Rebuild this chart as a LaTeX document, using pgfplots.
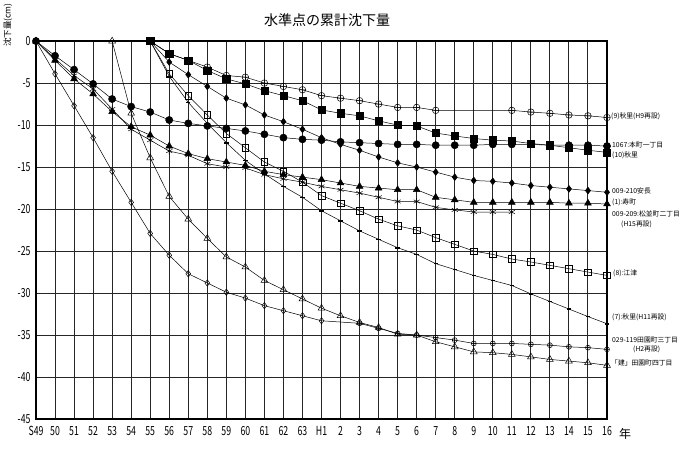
\documentclass[border=0pt]{standalone}
\usepackage{fontspec}
\setmainfont{Noto Sans CJK JP}
\newfontfamily\tickfont[FakeStretch=0.7]{Noto Sans CJK JP}
\usepackage{pgfplots}
\pgfplotsset{compat=1.18}
\begin{document}
\begin{tikzpicture}
\path (-36pt,-31pt) rectangle (664pt,416pt);
\foreach \i in {1,...,29} {\draw[black!85, line width=1pt] (\i*19.0333pt,0pt) -- (\i*19.0333pt,378pt);}
\foreach \j in {1,...,8} {\draw[black!85, line width=1pt] (0pt,\j*42pt) -- (571pt,\j*42pt);}
\begin{axis}[
 at={(0pt,0pt)}, anchor=south west, scale only axis, width=571pt, height=378pt,
 xmin=0, xmax=30, ymin=-45, ymax=0,
 xtick={0,...,30},
 xticklabels={S49,50,51,52,53,54,55,56,57,58,59,60,61,62,63,H1,2,3,4,5,6,7,8,9,10,11,12,13,14,15,16},
 ytick={-45,-40,-35,-30,-25,-20,-15,-10,-5,0},
 yticklabels={-45,-40,-35,-30,-25,-20,-15,-10,-5,0},
 major tick length=0pt,
 axis line style={line width=1.8pt},
 tick label style={font=\tickfont\fontsize{12.5}{13}\selectfont},
 yticklabel style={xshift=-2pt},
 xticklabel style={yshift=-4pt},
 clip=false,
 every axis plot/.append style={black, line width=0.5pt, mark options={solid, line width=0.5pt}},
]
% 029-119 (diamond, then small oplus)
\addplot[mark=diamond, mark size=3.2pt, mark options={fill=white}] coordinates {(0,0)(1,-3.9)(2,-7.7)(3,-11.5)(4,-15.5)(5,-19.2)(6,-22.9)(7,-25.5)(8,-27.7)(9,-28.8)(10,-29.9)(11,-30.6)(12,-31.5)(13,-32.1)(14,-32.7)(15,-33.3)};
\addplot[mark=oplus, mark size=2.5pt, mark options={fill=white}, mark indices={2,3,...,15}] coordinates {(15,-33.3)(17,-33.6)(18,-34.2)(19,-34.8)(20,-35.0)(21,-35.3)(22,-35.6)(23,-36.0)(24,-36.0)(25,-36.0)(26,-36.1)(27,-36.2)(28,-36.4)(29,-36.5)(30,-36.7)};
% open triangle
\addplot[mark=triangle, mark size=3.9pt, mark options={fill=white}] coordinates {(4,0)(5,-8.6)(6,-13.9)(7,-18.5)(8,-21.2)(9,-23.5)(10,-25.7)(11,-26.9)(12,-28.5)(13,-29.6)(14,-30.7)(15,-31.8)(16,-32.7)(17,-33.5)(18,-34.1)(19,-34.9)(20,-35.0)(21,-35.8)(22,-36.4)(23,-37.0)(24,-37.1)(25,-37.3)(26,-37.6)(27,-37.9)(28,-38.1)(29,-38.3)(30,-38.6)};
% asterisk
\addplot[mark=asterisk, mark size=3.5pt] coordinates {(0,0)(1,-2.1)(2,-4.1)(3,-5.7)(4,-8.1)(5,-10.5)(6,-11.8)(7,-13.1)(8,-13.6)(9,-14.6)(10,-15.0)(11,-15.1)(12,-15.9)(13,-16.4)(14,-16.8)(15,-17.3)(16,-17.7)(17,-18.1)(18,-18.6)(19,-19.1)(20,-19.1)(21,-19.8)(22,-20.1)(23,-20.35)(24,-20.35)(25,-20.35)};
% filled triangle
\addplot[mark=triangle*, mark size=3.9pt] coordinates {(0,0)(1,-2.3)(2,-4.5)(3,-6.3)(4,-8.4)(5,-10.2)(6,-11.2)(7,-12.5)(8,-13.4)(9,-14.0)(10,-14.4)(11,-14.8)(12,-15.5)(13,-15.9)(14,-16.2)(15,-16.5)(16,-16.9)(17,-17.3)(18,-17.5)(19,-17.7)(20,-17.7)(21,-18.6)(22,-18.9)(23,-19.2)(24,-19.2)(25,-19.2)(26,-19.2)(27,-19.2)(28,-19.3)(29,-19.3)(30,-19.4)};
% dash
\addplot[mark=-, mark size=2.2pt, mark options={line width=1.6pt}] coordinates {(6,0)(7,-4.2)(8,-7.3)(9,-9.8)(10,-12.1)(11,-14.2)(12,-15.8)(13,-17.3)(14,-18.6)(15,-20.2)(16,-21.4)(17,-22.6)(18,-23.6)(19,-24.6)(20,-25.4)(21,-26.5)(22,-27.2)(23,-27.9)(24,-28.5)(25,-29.1)(26,-30.1)(27,-31.0)(28,-31.9)(29,-32.8)(30,-33.65)};
% open square
\addplot[mark=square, mark size=3.3pt, mark options={fill=white}] coordinates {(6,0)(7,-3.9)(8,-6.5)(9,-8.8)(10,-11.0)(11,-12.7)(12,-14.4)(13,-15.5)(14,-16.8)(15,-18.4)(16,-19.3)(17,-20.2)(18,-21.2)(19,-22.0)(20,-22.5)(21,-23.4)(22,-24.2)(23,-25.0)(24,-25.4)(25,-25.95)(26,-26.3)(27,-26.7)(28,-27.1)(29,-27.5)(30,-27.9)};
% filled diamond
\addplot[mark=diamond*, mark size=3.4pt] coordinates {(6,0)(7,-2.5)(8,-4.0)(9,-5.4)(10,-6.8)(11,-7.6)(12,-8.8)(13,-9.6)(14,-10.5)(15,-11.5)(16,-12.3)(17,-13.0)(18,-13.8)(19,-14.5)(20,-15.0)(21,-15.6)(22,-16.2)(23,-16.6)(24,-16.7)(25,-16.9)(26,-17.2)(27,-17.4)(28,-17.6)(29,-17.8)(30,-18.0)};
% filled circle
\addplot[mark=*, mark size=3.6pt] coordinates {(0,0)(1,-1.75)(2,-3.4)(3,-5.1)(4,-6.9)(5,-7.8)(6,-8.45)(7,-9.4)(8,-9.8)(9,-10.1)(10,-10.4)(11,-10.7)(12,-11.1)(13,-11.5)(14,-11.7)(15,-11.8)(16,-12.0)(17,-12.1)(18,-12.2)(19,-12.3)(20,-12.3)(21,-12.4)(22,-12.4)(23,-12.4)(24,-12.3)(25,-12.3)(26,-12.3)(27,-12.4)(28,-12.4)(29,-12.4)(30,-12.5)};
% oplus large
\addplot[mark=oplus, mark size=3.3pt, mark options={fill=white}] coordinates {(6,0)(7,-1.5)(8,-2.3)(9,-3.1)(10,-4.1)(11,-4.3)(12,-5.0)(13,-5.4)(14,-5.8)(15,-6.5)(16,-6.8)(17,-7.1)(18,-7.5)(19,-7.9)(20,-7.9)(21,-8.25)(25,-8.25)(26,-8.45)(27,-8.6)(28,-8.8)(29,-8.9)(30,-9.1)};
% filled square
\addplot[mark=square*, mark size=3.6pt] coordinates {(6,0)(7,-1.5)(8,-2.3)(9,-3.5)(10,-4.5)(11,-5.1)(12,-5.9)(13,-6.5)(14,-7.1)(15,-8.2)(16,-8.6)(17,-8.9)(18,-9.5)(19,-10.0)(20,-10.1)(21,-10.95)(22,-11.3)(23,-11.6)(24,-11.8)(25,-11.9)(26,-12.2)(27,-12.4)(28,-12.7)(29,-13.0)(30,-13.25)};
\end{axis}
% title and labels
\node[font=\fontsize{14}{16}\selectfont] at (291pt,399pt) {水準点の累計沈下量};
\node[rotate=90, font=\fontsize{8.5}{9}\selectfont] at (-28pt,394pt) {沈下量(cm)};
\node[font=\fontsize{12}{12}\selectfont] at (589pt,-15pt) {年};
\begin{scope}[every node/.style={anchor=west, inner sep=0pt, font=\fontsize{6.8}{7}\selectfont}]
\node at (575pt,303pt) {(9)秋里(H9再設)};
\node at (576pt,274.5pt) {1067:本町一丁目};
\node at (576pt,264pt) {(10)秋里};
\node at (576pt,228.5pt) {009-210安長};
\node at (576pt,217pt) {(1):寿町};
\node at (576pt,205pt) {009-209:松並町二丁目};
\node at (585pt,194.5pt) {(H15再設)};
\node at (577pt,145.5pt) {(8):江津};
\node at (576pt,101.5pt) {(7):秋里(H11再設)};
\node at (576pt,78.5pt) {029-119田園町三丁目};
\node at (597pt,70pt) {(H2再設)};
\node at (575pt,56.5pt) {「建」田園町四丁目};
\end{scope}
\end{tikzpicture}
\end{document}
